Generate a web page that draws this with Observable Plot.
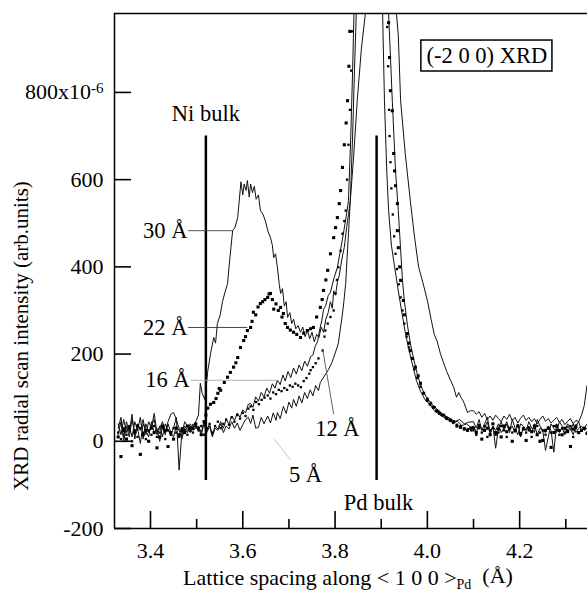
<!DOCTYPE html>
<html><head><meta charset="utf-8">
<script src="https://cdn.jsdelivr.net/npm/d3@7"></script>
<script src="https://cdn.jsdelivr.net/npm/@observablehq/plot@0.6"></script>
<style>
body{margin:0;background:#fff}
svg{display:block}
#chart svg, #chart svg text, #chart svg tspan { font-family: "Liberation Serif", "DejaVu Serif", "Times New Roman", serif !important; }
</style>
</head><body><div id="chart"></div>
<script>
// ---- data ----
const xLeft = [3.330,3.336,3.342,3.348,3.354,3.360,3.366,3.372,3.378,3.384,3.390,3.396,3.402,3.408,3.414,3.420,3.426,3.432,3.438,3.444,3.450,3.456,3.462,3.468,3.474,3.480,3.486,3.492,3.498];
const xRight = [4.100,4.106,4.112,4.118,4.124,4.130,4.136,4.142,4.148,4.154,4.160,4.166,4.172,4.178,4.184,4.190,4.196,4.202,4.208,4.214,4.220,4.226,4.232,4.238,4.244,4.250,4.256,4.262,4.268,4.274,4.280,4.286,4.292,4.298,4.304,4.310,4.316,4.322,4.328,4.334,4.340,4.346];

// 30 Å (solid line)
const y30L = [30,55,10,45,20,62,5,40,25,50,15,45,30,64,20,35,10,40,25,15,30,55,-66,20,35,25,40,30,45];
const mid30 = [[3.504,60],[3.508,133],[3.512,110],[3.518,95],[3.524,160],[3.530,200],[3.537,238],[3.541,225],[3.545,270],[3.551,290],[3.556,320],[3.561,340],[3.567,362],[3.572,420],[3.578,483],[3.583,490],[3.589,513],[3.593,560],[3.596,595],[3.600,565],[3.603,590],[3.607,575],[3.610,598],[3.614,560],[3.617,590],[3.621,570],[3.625,585],[3.629,555],[3.634,565],[3.638,530],[3.644,520],[3.649,505],[3.655,480],[3.660,467],[3.664,450],[3.667,421],[3.671,430],[3.675,399],[3.679,360],[3.682,339],[3.686,350],[3.690,310],[3.694,320],[3.697,284],[3.702,295],[3.706,270],[3.710,280],[3.715,258],[3.720,265],[3.725,250],[3.730,262],[3.735,240],[3.740,255],[3.745,235],[3.750,250],[3.755,228],[3.760,245],[3.765,238],[3.770,262],[3.775,250],[3.780,280],[3.785,295],[3.790,320],[3.794,305],[3.797,345],[3.801,335],[3.805,365],[3.809,380],[3.812,400],[3.816,425],[3.820,445],[3.825,490],[3.829,520],[3.833,552],[3.840,650],[3.848,781],[3.857,900],[3.866,985],[3.878,1200],[3.895,1250],[3.915,1150],[3.933,981],[3.937,930],[3.942,781],[3.952,660],[3.963,552],[3.972,470],[3.981,400],[3.990,365],[4.000,323],[4.008,280],[4.015,245],[4.021,230],[4.028,202],[4.035,180],[4.042,160],[4.050,140],[4.057,124],[4.063,101],[4.068,112],[4.073,100],[4.078,92],[4.083,78],[4.087,66],[4.093,70]];
const y30R = [70,62,68,55,64,50,58,48,60,52,45,58,50,62,47,55,42,53,60,48,55,45,52,40,50,58,46,52,42,48,55,44,50,38,46,52,40,48,45,60,82,128];

// 22 Å (large dots)
const y22L = [10,-35,25,5,30,-10,20,35,-30,15,25,0,30,20,-15,10,35,25,-12,20,5,30,15,25,20,35,25,30,40];
const mid22 = [[3.504,30],[3.510,15],[3.516,45],[3.520,60],[3.524,76],[3.530,85],[3.537,89],[3.542,98],[3.546,110],[3.549,121],[3.552,117],[3.560,135],[3.567,147],[3.573,158],[3.580,170],[3.585,180],[3.589,192],[3.595,215],[3.602,231],[3.606,240],[3.610,254],[3.617,261],[3.620,275],[3.623,296],[3.628,290],[3.633,308],[3.638,316],[3.643,320],[3.648,325],[3.654,330],[3.657,338],[3.660,339],[3.664,325],[3.667,303],[3.672,315],[3.677,300],[3.682,307],[3.685,285],[3.688,293],[3.692,270],[3.697,261],[3.703,255],[3.710,250],[3.717,245],[3.725,238],[3.732,248],[3.740,254],[3.747,258],[3.753,261],[3.760,285],[3.768,307],[3.772,325],[3.775,346],[3.780,370],[3.784,392],[3.790,430],[3.797,467],[3.801,490],[3.805,513],[3.809,545],[3.812,575],[3.816,628],[3.820,680],[3.824,730],[3.827,781],[3.830,860],[3.832,940],[3.916,960],[3.918,880],[3.920,804],[3.924,758],[3.927,660],[3.929,620],[3.931,586],[3.935,545],[3.935,483],[3.937,444],[3.940,400],[3.942,369],[3.948,323],[3.950,290],[3.957,247],[3.960,225],[3.963,208],[3.968,190],[3.974,170],[3.980,150],[3.985,133],[3.992,110],[4.000,94],[4.006,85],[4.013,78],[4.020,70],[4.027,64],[4.035,60],[4.042,52],[4.050,48],[4.057,45],[4.064,35],[4.072,32],[4.080,28],[4.087,25],[4.094,30]];
const y22R = [30,20,35,5,25,30,15,40,20,28,10,35,22,30,0,25,35,18,28,2,30,22,35,15,0,2,25,30,-14,20,35,25,15,30,22,-12,28,35,20,25,30,18];

// 16 Å (solid line)
const y16L = [40,15,50,20,35,10,45,25,55,5,40,20,35,50,15,30,45,20,45,62,66,50,30,15,45,35,20,40,30];
const mid16 = [[3.504,35],[3.510,20],[3.516,45],[3.522,25],[3.528,40],[3.534,15],[3.540,35],[3.546,28],[3.552,45],[3.558,30],[3.564,50],[3.570,40],[3.576,58],[3.582,48],[3.588,65],[3.594,55],[3.600,72],[3.606,65],[3.612,85],[3.617,87],[3.622,78],[3.628,102],[3.634,92],[3.640,112],[3.646,102],[3.652,122],[3.658,110],[3.664,132],[3.670,122],[3.675,140],[3.681,130],[3.687,152],[3.692,138],[3.698,160],[3.704,146],[3.710,168],[3.716,154],[3.722,175],[3.728,162],[3.734,184],[3.740,172],[3.747,194],[3.752,198],[3.757,218],[3.762,228],[3.767,258],[3.771,276],[3.775,302],[3.780,312],[3.785,334],[3.790,342],[3.797,372],[3.805,399],[3.812,440],[3.818,476],[3.824,515],[3.829,552],[3.834,700],[3.838,850],[3.841,985],[3.860,1300],[3.890,1400],[3.905,1200],[3.916,981],[3.924,781],[3.931,620],[3.937,529],[3.942,440],[3.946,370],[3.950,323],[3.957,265],[3.963,225],[3.970,190],[3.978,155],[3.985,130],[3.993,110],[4.000,98],[4.010,85],[4.020,75],[4.030,65],[4.040,58],[4.050,52],[4.060,45],[4.070,50],[4.080,40],[4.090,44]];
const y16R = [45,30,50,25,40,55,20,35,-16,30,45,25,40,20,50,30,15,40,35,25,45,30,20,50,35,25,-21,10,40,30,20,45,35,25,40,30,15,35,45,25,30,40];

// 12 Å (small dots)
const y12L = [20,5,30,15,35,0,25,10,30,20,5,25,15,35,10,20,30,5,25,15,30,20,10,30,25,15,30,20,35];
const mid12 = [[3.504,25],[3.510,35],[3.516,15],[3.522,30],[3.528,40],[3.534,20],[3.540,35],[3.546,45],[3.552,30],[3.558,40],[3.564,50],[3.570,38],[3.576,55],[3.582,45],[3.588,60],[3.594,52],[3.600,65],[3.606,58],[3.612,75],[3.617,80],[3.623,72],[3.629,90],[3.635,85],[3.641,95],[3.647,100],[3.654,105],[3.660,98],[3.666,112],[3.672,108],[3.678,118],[3.684,115],[3.690,122],[3.696,118],[3.702,128],[3.708,125],[3.714,132],[3.720,128],[3.726,124],[3.732,138],[3.738,145],[3.744,155],[3.747,163],[3.752,170],[3.758,179],[3.764,190],[3.773,208],[3.777,240],[3.779,254],[3.784,270],[3.790,285],[3.797,300],[3.801,339],[3.804,370],[3.807,399],[3.812,437],[3.816,476],[3.820,505],[3.823,529],[3.826,600],[3.829,680],[3.832,760],[3.835,850],[3.837,940],[3.913,950],[3.915,860],[3.917,760],[3.918,700],[3.920,640],[3.922,580],[3.925,520],[3.928,470],[3.931,430],[3.934,395],[3.938,360],[3.942,330],[3.946,300],[3.950,270],[3.955,240],[3.960,215],[3.966,190],[3.972,165],[3.978,145],[3.985,125],[3.992,110],[4.000,98],[4.008,88],[4.016,78],[4.024,68],[4.032,60],[4.040,55],[4.048,50],[4.056,42],[4.064,38],[4.072,35],[4.080,30],[4.088,28],[4.095,25]];
const y12R = [25,15,30,20,35,10,25,30,15,20,35,25,10,30,20,25,35,15,30,20,25,10,30,35,20,25,15,30,20,35,25,15,30,20,25,35,10,30,20,25,30,20];

// 5 Å (solid line)
const y5L = [15,45,0,35,10,50,20,30,-5,40,25,10,45,20,30,0,35,15,40,20,10,35,25,5,30,20,35,25,30];
const mid5 = [[3.504,30],[3.510,15],[3.516,40],[3.522,20],[3.528,35],[3.534,10],[3.540,30],[3.546,25],[3.552,40],[3.558,20],[3.564,35],[3.570,28],[3.576,45],[3.582,30],[3.588,42],[3.594,25],[3.600,38],[3.606,50],[3.612,55],[3.617,41],[3.622,60],[3.628,30],[3.634,32],[3.640,55],[3.646,40],[3.654,58],[3.660,42],[3.666,65],[3.672,48],[3.675,66],[3.681,52],[3.688,80],[3.694,64],[3.700,90],[3.706,76],[3.710,96],[3.716,80],[3.722,104],[3.728,88],[3.734,112],[3.740,98],[3.746,118],[3.752,104],[3.758,128],[3.764,116],[3.768,135],[3.774,145],[3.780,155],[3.786,165],[3.792,178],[3.797,192],[3.802,208],[3.807,224],[3.811,255],[3.815,284],[3.819,320],[3.823,362],[3.826,420],[3.829,476],[3.833,552],[3.838,700],[3.842,850],[3.846,985],[3.870,1400],[3.895,1350],[3.903,981],[3.907,781],[3.912,620],[3.916,529],[3.922,450],[3.929,400],[3.937,345],[3.944,300],[3.952,250],[3.960,210],[3.968,175],[3.976,140],[3.985,115],[3.995,95],[4.005,85],[4.015,70],[4.025,62],[4.035,55],[4.045,50],[4.055,42],[4.065,46],[4.075,36],[4.085,40],[4.094,32]];
const y5R = [35,20,40,25,30,45,15,35,25,40,20,30,45,25,35,20,40,10,30,25,35,20,40,15,30,25,20,35,25,-25,40,20,30,15,35,25,40,20,30,35,25,30];

const xTicksMajor = [3.4, 3.6, 3.8, 4.0, 4.2];
const xTicksMinor = [3.5, 3.7, 3.9, 4.1, 4.3];
const yTicks = [-200, 0, 200, 400, 600, 800];
const xDomain = [3.322, 4.347];
const yDomain = [-200, 981];

const bulk = [{name: "Ni bulk", x: 3.52}, {name: "Pd bulk", x: 3.89}];

// ---- annotation placement ----
const labelsEnd = [
  {text: "30 Å", x: 3.480, y: 483},
  {text: "22 Å", x: 3.480, y: 261},
  {text: "16 Å", x: 3.485, y: 140}
];
const labelsStart = [
  {text: "12 Å", x: 3.757, y: 28},
  {text: "5 Å",  x: 3.700, y: -76}
];
const leaders = [
  {x1: 3.481, y1: 483, x2: 3.578, y2: 483, c: "#444", dash: null},
  {x1: 3.481, y1: 261, x2: 3.610, y2: 261, c: "#333", dash: null},
  {x1: 3.486, y1: 140, x2: 3.675, y2: 140, c: "#aaa", dash: null},
  {x1: 3.797, y1: 62,  x2: 3.773, y2: 212, c: "#555", dash: null},
  {x1: 3.703, y1: -42, x2: 3.668, y2: 5,   c: "#bbb", dash: "1,5"}
];
const bulkLabels = [{text: "Ni bulk", x: 3.52, y: 752}, {text: "Pd bulk", x: 3.894, y: -140}];

function series(name, left, mid, right) {
  return [
    ...xLeft.map((x, i) => ({x, y: left[i], s: name})),
    ...mid.map(([x, y]) => ({x, y, s: name})),
    ...xRight.map((x, i) => ({x, y: right[i], s: name}))
  ];
}
const s30 = series("30", y30L, mid30, y30R);
const s22 = series("22", y22L, mid22, y22R);
const s16 = series("16", y16L, mid16, y16R);
const s12 = series("12", y12L, mid12, y12R);
const s5  = series("5",  y5L,  mid5,  y5R);

const FONT = "'Liberation Serif', 'DejaVu Serif', 'Times New Roman', serif";
const FS = 22.5;

const plot = Plot.plot({
  width: 587, height: 591,
  marginLeft: 114, marginRight: 0, marginTop: 13, marginBottom: 63,
  style: {fontFamily: FONT, fontSize: "22px", color: "#000", background: "#fff"},
  x: {domain: xDomain},
  y: {domain: yDomain},
  marks: [
    Plot.line(s5,  {x: "x", y: "y", stroke: "#111", strokeWidth: 1, clip: true}),
    Plot.line(s16, {x: "x", y: "y", stroke: "#111", strokeWidth: 1, clip: true}),
    Plot.line(s30, {x: "x", y: "y", stroke: "#111", strokeWidth: 1, clip: true}),
    Plot.dot(s12, {x: "x", y: "y", symbol: "square", r: 1.3, fill: "#000", clip: true}),
    Plot.dot(s22, {x: "x", y: "y", symbol: "square", r: 1.75, fill: "#000", clip: true}),
    Plot.ruleX(bulk, {x: "x", y1: -90, y2: 700, stroke: "#000", strokeWidth: 2.5}),
    Plot.link(leaders, {x1: "x1", y1: "y1", x2: "x2", y2: "y2", stroke: "c", strokeWidth: 0.9, strokeDasharray: d => d.dash}),
    Plot.text(labelsEnd, {x: "x", y: "y", text: "text", textAnchor: "end", lineAnchor: "middle", fontSize: FS}),
    Plot.text(labelsStart, {x: "x", y: "y", text: "text", textAnchor: "start", lineAnchor: "middle", fontSize: FS}),
    Plot.text(bulkLabels, {x: "x", y: "y", text: "text", lineAnchor: "middle", fontSize: FS}),
    Plot.rect([{x1: 3.987, x2: 4.271, y1: 848, y2: 919}], {x1: "x1", x2: "x2", y1: "y1", y2: "y2", fill: "#fff", stroke: "#000", strokeWidth: 1.5}),
    Plot.text(["(-2 0 0) XRD"], {x: 4.129, y: 884, text: d => d, lineAnchor: "middle", fontSize: FS}),
    // frame lines
    Plot.ruleY([yDomain[1]], {stroke: "#000", strokeWidth: 1.5}),
    Plot.ruleY([yDomain[0]], {stroke: "#000", strokeWidth: 1.5}),
    Plot.ruleX([xDomain[0]], {stroke: "#000", strokeWidth: 1.5}),
    // inward ticks
    Plot.tickX(xTicksMajor, {x: d => d, insetTop: 498, stroke: "#000", strokeWidth: 1.6}),
    Plot.tickX(xTicksMinor, {x: d => d, insetTop: 506, stroke: "#000", strokeWidth: 1.6}),
    Plot.tickY(yTicks, {y: d => d, insetRight: 456, stroke: "#000", strokeWidth: 1.6}),
    Plot.axisX(xTicksMajor, {tickSize: 0, tickPadding: 14, tickFormat: d3.format(".1f"), label: null}),
    Plot.axisY(yTicks, {tickSize: 0, tickPadding: 11, tickFormat: d => String(d), label: null})
  ]
});

const ns = "http://www.w3.org/2000/svg";
plot.querySelectorAll('g[aria-label="y-axis tick label"] text').forEach(t => {
  if (t.textContent === "800") {
    t.textContent = "800x10";
    const ts = document.createElementNS(ns, "tspan");
    ts.setAttribute("dy", "-0.45em");
    ts.setAttribute("font-size", "15");
    ts.textContent = "-6";
    t.appendChild(ts);
  }
});
// axis titles
const xt = document.createElementNS(ns, "text");
xt.setAttribute("x", 348); xt.setAttribute("y", 585);
xt.setAttribute("text-anchor", "middle");
xt.setAttribute("font-size", "22");
xt.appendChild(document.createTextNode("Lattice spacing along < 1 0 0 >"));
const sub = document.createElementNS(ns, "tspan");
sub.setAttribute("dy", "0.3em"); sub.setAttribute("font-size", "14"); sub.textContent = "Pd";
xt.appendChild(sub);
const rest = document.createElementNS(ns, "tspan");
rest.setAttribute("dy", "-0.3em"); rest.textContent = "\u00a0\u00a0(Å)";
xt.appendChild(rest);
plot.appendChild(xt);

const yt = document.createElementNS(ns, "text");
yt.setAttribute("transform", "translate(23,336) rotate(-90)");
yt.setAttribute("text-anchor", "middle");
yt.setAttribute("dominant-baseline", "middle");
yt.setAttribute("font-size", "21");
yt.textContent = "XRD radial scan intensity (arb.units)";
plot.appendChild(yt);

document.getElementById("chart").appendChild(plot);
</script>
</body></html>
